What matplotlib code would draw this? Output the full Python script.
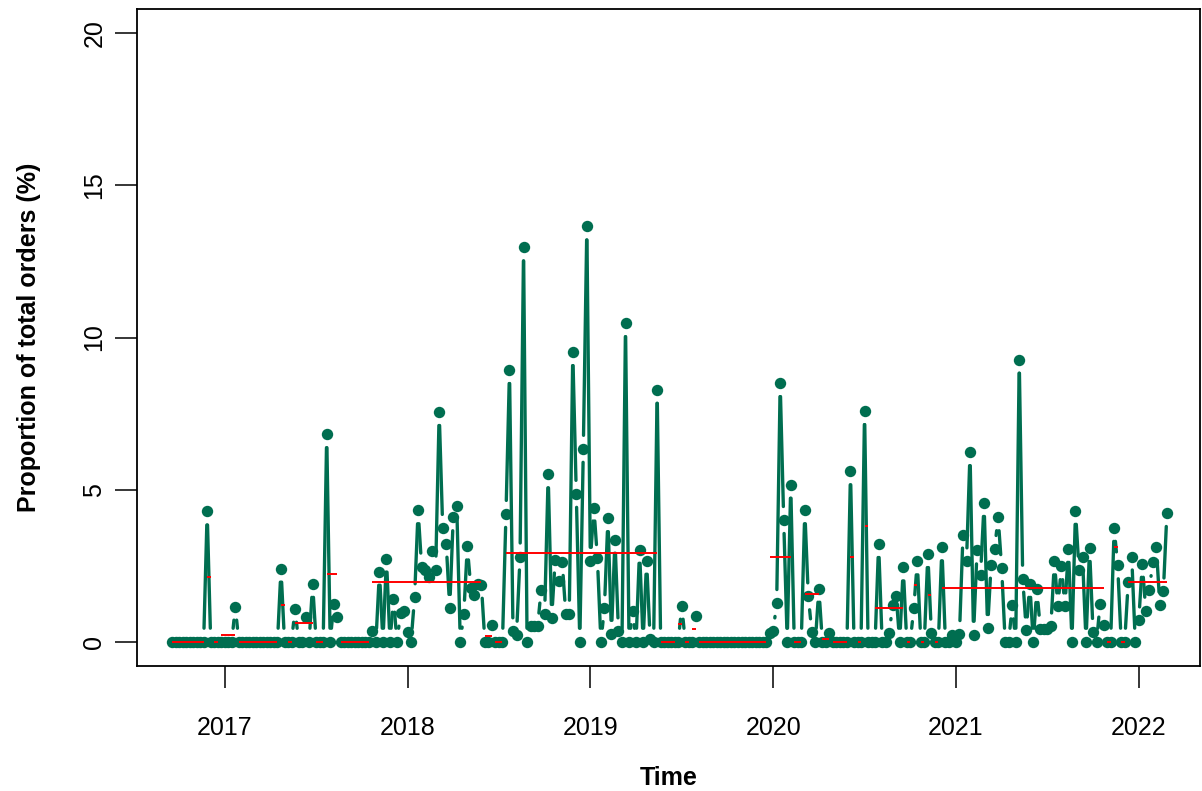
import numpy as np
import matplotlib
matplotlib.use("Agg")
import matplotlib.pyplot as plt
from matplotlib.collections import LineCollection

# weekly series (ts, frequency 52) starting in week 38 of 2016
start_year = 2016
start_week = 38
freq = 52

# proportion of total orders (%) per week
share = [
    0, 0, 0, 0, 0, 0, 0, 0, 0, 0,
    4.28, 0, 0, 0, 0, 0, 0, 0, 1.15, 0,
    0, 0, 0, 0, 0, 0, 0, 0, 0, 0,
    0, 2.4, 0, 0, 0, 1.08, 0, 0, 0.82, 0,
    1.9, 0, 0, 0, 6.82, 0, 1.25, 0.82, 0, 0,
    0, 0, 0, 0, 0, 0, 0, 0.34, 0, 2.3,
    0, 2.73, 0, 1.41, 0, 0.95, 1.02, 0.33, 0, 1.46,
    4.32, 2.47, 2.35, 2.13, 2.97, 2.37, 7.55, 3.74, 3.22, 1.11,
    4.09, 4.45, 0, 0.92, 3.13, 1.77, 1.55, 1.9, 1.87, 0,
    0, 0.56, 0, 0, 0, 4.2, 8.93, 0.34, 0.23, 2.8,
    12.96, 0, 0.5, 0.5, 0.5, 1.71, 0.92, 5.5, 0.78, 2.7,
    2.0, 2.62, 0.92, 0.92, 9.52, 4.86, 0, 6.34, 13.65, 2.66,
    4.41, 2.75, 0, 1.1, 4.06, 0.26, 3.35, 0.34, 0, 10.47,
    0, 1.0, 0, 3.02, 0, 2.66, 0.1, 0, 8.28, 0,
    0, 0, 0, 0, 0, 1.18, 0, 0, 0, 0.83,
    0, 0, 0, 0, 0, 0, 0, 0, 0, 0,
    0, 0, 0, 0, 0, 0, 0, 0, 0, 0,
    0.3, 0.34, 1.27, 8.5, 4.0, 0, 5.16, 0, 0, 0,
    4.32, 1.49, 0.31, 0, 1.74, 0, 0, 0.3, 0, 0,
    0, 0, 0, 5.6, 0, 0, 0, 7.58, 0, 0,
    0, 3.21, 0, 0, 0.28, 1.2, 1.49, 0, 2.44, 0,
    0, 1.1, 2.64, 0, 0, 2.88, 0.3, 0, 0, 3.1,
    0, 0, 0.23, 0, 0.25, 3.52, 2.64, 6.23, 0.23, 3.0,
    2.2, 4.56, 0.45, 2.53, 3.05, 4.09, 2.42, 0, 0, 1.19,
    0, 9.27, 2.07, 0.37, 1.9, 0, 1.73, 0.43, 0.42, 0.43,
    0.5, 2.64, 1.16, 2.48, 1.16, 3.05, 0, 4.3, 2.37, 2.78,
    0, 3.08, 0.32, 0, 1.25, 0.56, 0, 0, 3.74, 2.51,
    0, 0, 1.96, 2.8, 0, 0.7, 2.56, 1.02, 1.71, 2.61,
    3.11, 1.19, 1.65, 4.23,
]

# segment means (first week index, last week index, level)
seg_start = [0, 10, 12, 14, 19, 31, 33, 35, 41, 44, 48, 57, 89, 92, 95,
             139, 144, 146, 148, 150, 170, 177, 180, 185, 188, 193, 195,
             197, 200, 209, 211, 213, 215, 217, 219, 266, 268, 270, 272]
seg_end = [9, 11, 13, 18, 30, 32, 34, 40, 43, 47, 56, 88, 91, 94, 138,
           143, 145, 147, 149, 169, 176, 179, 184, 187, 192, 194, 196,
           198, 208, 210, 212, 214, 216, 218, 265, 267, 269, 271, 283]
seg_level = [0, 2.14, 0, 0.23, 0, 1.2, 0, 0.6, 0, 2.22, 0, 1.95, 0.17, 0,
             2.92, 0, 0.59, 0, 0.43, 0, 2.8, 0, 1.58, 0.1, 0, 2.8, 0,
             3.8, 1.1, 0, 1.85, 0, 1.55, 0, 1.75, 0, 3.1, 0, 1.97]

year_ticks = [2017, 2018, 2019, 2020, 2021, 2022]
y_ticks = [0, 5, 10, 15, 20]

GREEN = "#006e50"


def gapped_segments(ax, x, y, gap_px):
    # R type="b": lines stop short of each point
    pts = ax.transData.transform(np.column_stack([x, y]))
    inv = ax.transData.inverted()
    segs = []
    for p0, p1 in zip(pts[:-1], pts[1:]):
        d = p1 - p0
        n = np.hypot(d[0], d[1])
        if n <= 2 * gap_px:
            continue
        u = d / n
        segs.append([inv.transform(p0 + u * gap_px),
                     inv.transform(p1 - u * gap_px)])
    return segs


plt.rcParams["font.family"] = ["Liberation Sans", "DejaVu Sans"]

W, H = 1202, 791
fig = plt.figure(figsize=(W / 100, H / 100), dpi=100)
ax = fig.add_axes([137 / W, 1 - 666 / H, (1200 - 137) / W, (666 - 9) / H])

t = start_year + (start_week - 1 + np.arange(len(share))) / freq
vals = np.array(share, dtype=float)

ax.set_xlim(2016.52, 2022.335)
ax.set_ylim(-0.8, 20.8)

segs = gapped_segments(ax, t, vals, 13.5)
ax.add_collection(LineCollection(segs, colors=GREEN, linewidths=2.4,
                                 capstyle="round", zorder=2))

ax.plot(t, vals, "o", color=GREEN, markersize=8.2,
        markeredgewidth=0, zorder=3)

t_lo = [t[i] for i in seg_start]
t_hi = [t[i] for i in seg_end]
ax.hlines(seg_level, t_lo, t_hi, colors="red", linewidth=1.4, zorder=4)

ax.set_xticks(year_ticks)
ax.set_xticklabels([str(y) for y in year_ticks])
ax.set_yticks(y_ticks)
ax.set_yticklabels([str(v) for v in y_ticks], rotation=90, va="center")

ax.tick_params(axis="both", length=16, width=1.1, labelsize=18,
               color="black")
ax.tick_params(axis="x", pad=20)
ax.tick_params(axis="y", pad=6)

for s in ax.spines.values():
    s.set_linewidth(1.3)

fig.text(668.5 / W, 1 - 778 / H, "Time", ha="center", va="center",
         fontsize=18, fontweight="bold")
fig.text(29 / W, 1 - 337.5 / H, "Proportion of total orders (%)",
         ha="center", va="center", rotation=90, fontsize=18,
         fontweight="bold")

fig.savefig("out.png", dpi=100)
